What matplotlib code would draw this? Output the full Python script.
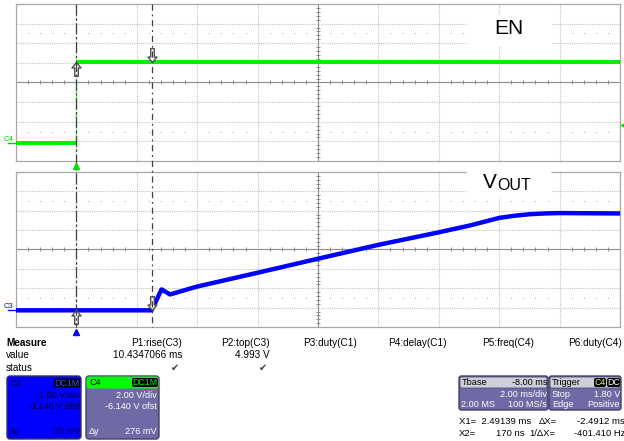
import matplotlib
matplotlib.use('Agg')
import matplotlib.pyplot as plt
import matplotlib.transforms as mtransforms
from matplotlib.path import Path
from matplotlib.patches import FancyBboxPatch, Rectangle
from matplotlib.lines import Line2D
import numpy as np

plt.rcParams['font.family'] = ['Liberation Sans', 'DejaVu Sans']

# scope settings
tdiv = 2.0                     # ms/div
c4_vdiv, c4_ofst = 2.0, -6.14  # EN
c3_vdiv, c3_ofst = 1.0, -3.14  # VOUT
x1_cursor = 2.49139            # ms
x2_cursor = 170e-6             # ms (170 ns)
trig_level = 1.80

# EN trace (C4), ms / V
en_t = [-2.0, 0.0, 0.0, 18.0]
en_v = [0.0, 0.0, 8.2, 8.2]

# VOUT trace (C3), ms / V
vout_t = [-2.0, 2.49, 2.55, 2.82, 3.10, 3.98, 5.97, 7.96, 10.0, 11.98,
          13.03, 14.0, 14.5, 15.0, 15.5, 16.0, 17.0, 18.0]
vout_v = [0.0, 0.0, 0.2, 1.08, 0.82, 1.22, 1.93, 2.65, 3.38, 4.02,
          4.38, 4.77, 4.88, 4.96, 5.0, 5.02, 5.01, 5.0]

meas_names = ['P1:rise(C3)', 'P2:top(C3)', 'P3:duty(C1)', 'P4:delay(C1)', 'P5:freq(C4)', 'P6:duty(C4)']
meas_values = ['10.4347066 ms', '4.993 V', '', '', '', '']
meas_status = ['\u2714', '\u2714', '', '', '', '']

W, H = 624, 441
fig = plt.figure(figsize=(W / 100, H / 100), dpi=100)
fig.patch.set_facecolor('white')

L, R = 16, 620
top_t, top_b = 4, 161
bot_t, bot_b = 172, 327


def fx(px):
    return px / W


def fy(py):
    return 1 - py / H


ax1 = fig.add_axes([fx(L), fy(top_b), (R - L) / W, (top_b - top_t) / H])
ax2 = fig.add_axes([fx(L), fy(bot_b), (R - L) / W, (bot_b - bot_t) / H])

grid_col = '#c4c4c4'
center_col = '#8c8c8c'


def scope_grid(ax, vdiv, ofst):
    xmin, xmax = -tdiv, 9 * tdiv
    ymin, ymax = -ofst - 4 * vdiv, -ofst + 4 * vdiv
    ax.set_xlim(xmin, xmax)
    ax.set_ylim(ymin, ymax)
    ax.set_xticks([])
    ax.set_yticks([])
    for s in ax.spines.values():
        s.set_color('#a8a8a8')
        s.set_linewidth(0.9)
    for k in range(1, 10):
        x = xmin + k * tdiv
        if k == 5:
            ax.axvline(x, color=center_col, lw=0.8, zorder=1)
        else:
            ax.axvline(x, color=grid_col, lw=0.8, ls=(0, (1, 1)), zorder=1)
    for k in range(1, 8):
        y = ymin + k * vdiv
        if k == 4:
            ax.axhline(y, color=center_col, lw=0.8, zorder=1)
        else:
            ax.axhline(y, color=grid_col, lw=0.8, ls=(0, (1, 1)), zorder=1)
    # minor ticks on center lines
    xs = np.array([xmin + j * tdiv / 5 for j in range(1, 50) if j % 5])
    ys = np.array([ymin + j * vdiv / 5 for j in range(1, 40) if j % 5])
    ax.plot(xs, np.full(len(xs), -ofst), ls='none', marker='|', ms=3.5,
            mew=0.7, color=center_col, zorder=1)
    ax.plot(np.full(len(ys), xmin + 5 * tdiv), ys, ls='none', marker='_', ms=3.5,
            mew=0.7, color=center_col, zorder=1)
    for r in (-2.5, 2.5):
        ax.plot(xs, np.full(len(xs), -ofst + r * vdiv), ls='none', marker='s',
                ms=0.8, mew=0, color='#b0b0b0', zorder=1)


scope_grid(ax1, c4_vdiv, c4_ofst)
scope_grid(ax2, c3_vdiv, c3_ofst)

# traces
ax1.plot(en_t[:2], en_v[:2], color='#00ee00', lw=2.8, zorder=3, solid_capstyle='butt')
ax1.plot(en_t[2:], en_v[2:], color='#00ee00', lw=2.8, zorder=3, solid_capstyle='butt')
ax1.plot(en_t[1:3], en_v[1:3], color='#33ff33', lw=1.0, ls=(0, (4, 2)), zorder=3)
ax2.plot(vout_t, vout_v, color='#0000ff', lw=3.2, zorder=3, solid_joinstyle='round')

# hollow cursor arrows
up = Path([(0, 0), (-4.5, -5.5), (-1.8, -5.5), (-1.8, -14), (1.8, -14), (1.8, -5.5), (4.5, -5.5), (0, 0)],
          closed=True)
down = Path([(0, 0), (-4.5, 5.5), (-1.8, 5.5), (-1.8, 14), (1.8, 14), (1.8, 5.5), (4.5, 5.5), (0, 0)],
            closed=True)
en_x2 = np.interp(x2_cursor, en_t[2:], en_v[2:])
en_x1 = np.interp(x1_cursor, en_t[2:], en_v[2:])
vo_x2 = np.interp(x2_cursor, vout_t, vout_v)
vo_x1 = np.interp(x1_cursor, vout_t, vout_v)
for ax, xx, yy, mk in [(ax1, x2_cursor, en_x2, up), (ax1, x1_cursor, en_x1, down),
                       (ax2, x2_cursor, vo_x2, up), (ax2, x1_cursor, vo_x1, down)]:
    ax.plot([xx], [yy], marker=mk, ms=20, mfc='white', mec='#505050', mew=1.0,
            ls='none', zorder=6, clip_on=False)

# cursor lines across both panels
bl = mtransforms.blended_transform_factory(ax1.transData, fig.transFigure)
fig.add_artist(Line2D([x2_cursor, x2_cursor], [fy(top_t), fy(bot_b)], transform=bl,
                      color='#404040', lw=0.9, ls=(0, (9, 2, 2, 2)), zorder=5))
fig.add_artist(Line2D([x1_cursor, x1_cursor], [fy(top_t), fy(bot_b)], transform=bl,
                      color='#404040', lw=0.9, ls=(0, (5, 3, 1.5, 3)), zorder=5))

# trigger position markers
fig.add_artist(Line2D([0.0], [fy(166)], transform=bl, marker='^', ms=5,
                      color='#00dd00', ls='none', zorder=6))
fig.add_artist(Line2D([0.0], [fy(332)], transform=bl, marker='^', ms=5,
                      color='#0000ff', ls='none', zorder=6))

# trigger level marker on right edge of EN panel
tl = mtransforms.blended_transform_factory(ax1.transAxes, ax1.transData)
ax1.plot([1.006], [trig_level], marker='<', ms=4, color='#00dd00', ls='none',
         transform=tl, clip_on=False, zorder=6)

# ground markers
for ax, lab, col in [(ax1, 'C4', '#00cc00'), (ax2, 'C3', '#0000ff')]:
    gt = mtransforms.blended_transform_factory(ax.transAxes, ax.transData)
    ax.plot([-0.014, 0.0], [0, 0], color=col, lw=1.0, transform=gt, clip_on=False, zorder=6)
    ax.text(-0.02, 0, lab, color=col, fontsize=5.5, transform=gt,
            ha='left', va='bottom', clip_on=False)

# overlay in pixel coordinates for labels and info panel
ov = fig.add_axes([0, 0, 1, 1], zorder=10)
ov.set_xlim(0, W)
ov.set_ylim(H, 0)
ov.axis('off')

ov.add_patch(Rectangle((467, 15), 83, 31, color='white', zorder=1))
ov.add_patch(Rectangle((467, 168), 83, 29, color='white', zorder=1))
ov.text(508.5, 29, 'EN', fontsize=15, ha='center', va='center', zorder=2)
ov.text(483, 187.5, 'V', fontsize=15, ha='left', va='baseline', zorder=2)
ov.text(497.5, 190, 'OUT', fontsize=11.5, ha='left', va='baseline', zorder=2)

fs = 7.2
ov.text(6, 343, 'Measure', fontsize=fs, fontweight='bold', va='center')
ov.text(6, 355.5, 'value', fontsize=fs, va='center')
ov.text(6, 368, 'status', fontsize=fs, va='center')
col_right = [182, 270, 357, 447, 534, 622]
for i, name in enumerate(meas_names):
    ov.text(col_right[i], 343, name, fontsize=fs, ha='right', va='center')
    if meas_values[i]:
        ov.text(col_right[i], 355.5, meas_values[i], fontsize=fs, ha='right', va='center')
    if meas_status[i]:
        ov.text(col_right[i] - 7, 368, meas_status[i], fontsize=7, ha='center',
                va='center', color='#404040')

purple = '#6e6aa6'
bfs = 6.6


def badge(x0, x1, y, txt, col):
    ov.add_patch(FancyBboxPatch((x0, y - 4.5), x1 - x0, 9,
                                boxstyle='round,pad=0,rounding_size=2',
                                fc='black', ec='none', zorder=3))
    ov.text((x0 + x1) / 2, y + 0.3, txt, fontsize=6.3, color=col, ha='center',
            va='center', zorder=4)


# C3 box
ov.add_patch(FancyBboxPatch((7, 376), 74, 63, boxstyle='round,pad=0,rounding_size=3',
                            fc='#0000ff', ec='#30306a', lw=1, zorder=1))
ov.text(10, 383, 'C3', fontsize=bfs, color='#000033', va='center', zorder=4)
badge(54, 80, 383, 'DC1M', '#3050ff')
ov.text(80, 395, '1.00 V/div', fontsize=bfs, color='#000022', ha='right', va='center', zorder=4)
ov.text(80, 406.5, '-3.140 V ofst', fontsize=bfs, color='#000022', ha='right', va='center',
        zorder=4, clip_on=True)
ov.text(9, 432, '\u0394y', fontsize=bfs, color='#000022', va='center', zorder=4)
ov.text(80, 432, '32 mV', fontsize=bfs, color='#000022', ha='right', va='center', zorder=4)

# C4 box
ov.add_patch(FancyBboxPatch((86, 376), 73, 63, boxstyle='round,pad=0,rounding_size=3',
                            fc=purple, ec='#40406a', lw=1, zorder=1))
ov.add_patch(FancyBboxPatch((86.5, 376.5), 72, 12, boxstyle='round,pad=0,rounding_size=2.5',
                            fc='#00ff00', ec='none', zorder=2))
ov.text(89, 382.5, 'C4', fontsize=bfs, color='black', va='center', zorder=4)
badge(132, 158, 382.5, 'DC1M', '#00ee00')
ov.text(157, 395, '2.00 V/div', fontsize=bfs, color='white', ha='right', va='center', zorder=4)
ov.text(157, 406.5, '-6.140 V ofst', fontsize=bfs, color='white', ha='right', va='center', zorder=4)
ov.text(89, 432, '\u0394y', fontsize=bfs, color='white', va='center', zorder=4)
ov.text(157, 432, '276 mV', fontsize=bfs, color='white', ha='right', va='center', zorder=4)

# Tbase box
ov.add_patch(FancyBboxPatch((459, 376), 89, 34, boxstyle='round,pad=0,rounding_size=2.5',
                            fc=purple, ec='#40406a', lw=1, zorder=1))
ov.add_patch(FancyBboxPatch((460, 377), 87, 11, boxstyle='round,pad=0,rounding_size=2',
                            fc='#cfcfdc', ec='#505070', lw=0.6, zorder=2))
ov.text(462, 382.5, 'Tbase', fontsize=bfs, color='black', va='center', zorder=4)
ov.text(547, 382.5, '-8.00 ms', fontsize=bfs, color='black', ha='right', va='center', zorder=4)
ov.text(547, 394.5, '2.00 ms/div', fontsize=bfs, color='white', ha='right', va='center', zorder=4)
ov.text(461, 404.5, '2.00 MS', fontsize=bfs, color='white', va='center', zorder=4)
ov.text(547, 404.5, '100 MS/s', fontsize=bfs, color='white', ha='right', va='center', zorder=4)

# Trigger box
ov.add_patch(FancyBboxPatch((549, 376), 72, 34, boxstyle='round,pad=0,rounding_size=2.5',
                            fc=purple, ec='#40406a', lw=1, zorder=1))
ov.add_patch(FancyBboxPatch((550, 377), 70, 11, boxstyle='round,pad=0,rounding_size=2',
                            fc='#cfcfdc', ec='#505070', lw=0.6, zorder=2))
ov.text(552, 382.5, 'Trigger', fontsize=bfs, color='black', va='center', zorder=4)
badge(594, 606, 382.5, 'C4', '#c8ff40')
badge(607, 620, 382.5, 'DC', 'white')
ov.text(552, 394.5, 'Stop', fontsize=bfs, color='white', va='center', zorder=4)
ov.text(620, 394.5, '1.80 V', fontsize=bfs, color='white', ha='right', va='center', zorder=4)
ov.text(552, 404.5, 'Edge', fontsize=bfs, color='white', va='center', zorder=4)
ov.text(620, 404.5, 'Positive', fontsize=bfs, color='white', ha='right', va='center', zorder=4)

# cursor readouts
xfs = 6.8
ov.text(459, 422, 'X1=  2.49139 ms', fontsize=xfs, va='center')
ov.text(539, 422, '\u0394X=', fontsize=xfs, va='center')
ov.text(625, 422, '-2.4912 ms', fontsize=xfs, ha='right', va='center')
ov.text(459, 433.5, 'X2=', fontsize=xfs, va='center')
ov.text(525, 433.5, '170 ns', fontsize=xfs, ha='right', va='center')
ov.text(529, 433.5, '1/\u0394X=', fontsize=xfs, va='center')
ov.text(625, 433.5, '-401.410 Hz', fontsize=xfs, ha='right', va='center')

fig.savefig('out.png', dpi=100, facecolor='white')
